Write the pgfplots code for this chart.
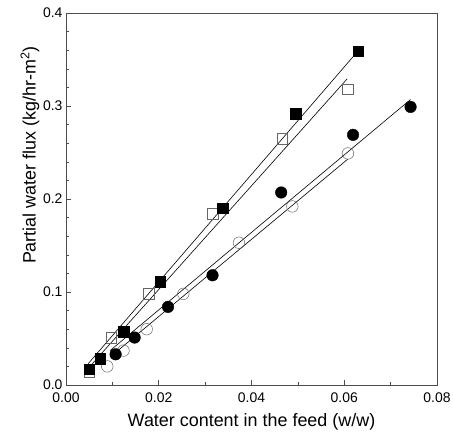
\documentclass[border=0pt]{standalone}
\usepackage{fontspec}
\setmainfont{Liberation Sans}
\usepackage{pgfplots}
\pgfplotsset{compat=1.18}
\begin{document}
\begin{tikzpicture}
\path[use as bounding box] (-66bp,-56bp) rectangle (387bp,385bp);
\begin{axis}[
  at={(0,0)}, anchor=south west,
  scale only axis, width=371bp, height=372bp,
  xmin=0, xmax=0.08, ymin=0, ymax=0.4,
  xtick={0,0.02,0.04,0.06,0.08},
  ytick={0,0.1,0.2,0.3,0.4},
  minor xtick={0.01,0.03,0.05,0.07},
  minor ytick={0.02,0.04,0.06,0.08,0.12,0.14,0.16,0.18,0.22,0.24,0.26,0.28,0.32,0.34,0.36,0.38},
  xtick pos=bottom, ytick pos=left, tick align=inside,
  major tick length=5bp, minor tick length=3bp,
  axis line style={black!70, line width=0.6bp},
  every tick/.style={black!70, line width=0.5bp},
  /pgf/number format/assume math mode=true,
  xticklabel style={font=\fontsize{14}{16}\selectfont, yshift=-4bp, /pgf/number format/fixed, /pgf/number format/fixed zerofill, /pgf/number format/precision=2},
  yticklabel style={font=\fontsize{14}{16}\selectfont, /pgf/number format/fixed, /pgf/number format/fixed zerofill, /pgf/number format/precision=1},
  scaled x ticks=false, scaled y ticks=false,
  xlabel={Water content in the feed (w/w)},
  ylabel={Partial water flux (kg/hr-m\textsuperscript{2})},
  label style={font=\fontsize{18}{20}\selectfont},
  xlabel style={at={(axis description cs:0.5,-0.1)}, anchor=center},
  ylabel style={at={(axis description cs:-0.097,0.618)}, anchor=center, rotate=0},
]
% fitted lines
\addplot[black, line width=0.6bp] coordinates {(0.0048,0.023) (0.0619,0.353)};
\addplot[black, line width=0.6bp] coordinates {(0.0048,0.018) (0.0606,0.329)};
\addplot[black, line width=0.6bp] coordinates {(0.0095,0.037) (0.0743,0.307)};
\addplot[black, line width=0.6bp] coordinates {(0.0095,0.030) (0.0608,0.243)};
% open squares
\addplot[only marks, mark=square, mark size=5.3bp, black!60, mark options={line width=0.5bp}] coordinates {
(0.005,0.014) (0.0098,0.051) (0.0179,0.098) (0.0316,0.184) (0.0466,0.265) (0.0608,0.318)};
% open circles
\addplot[only marks, mark=o, mark size=5.8bp, black!60, mark options={line width=0.5bp}] coordinates {
(0.0089,0.020) (0.0124,0.037) (0.0174,0.060) (0.0253,0.098) (0.0373,0.153) (0.0488,0.192) (0.0608,0.249)};
% filled squares
\addplot[only marks, mark=square*, mark size=5.3bp, black] coordinates {
(0.005,0.017) (0.0074,0.028) (0.0124,0.057) (0.0203,0.111) (0.0338,0.190) (0.0495,0.292) (0.063,0.359)};
% filled circles
\addplot[only marks, mark=*, mark size=5.8bp, black] coordinates {
(0.0107,0.033) (0.0148,0.051) (0.022,0.084) (0.0316,0.118) (0.0464,0.207) (0.0619,0.269) (0.0743,0.299)};
\end{axis}
\end{tikzpicture}
\end{document}
